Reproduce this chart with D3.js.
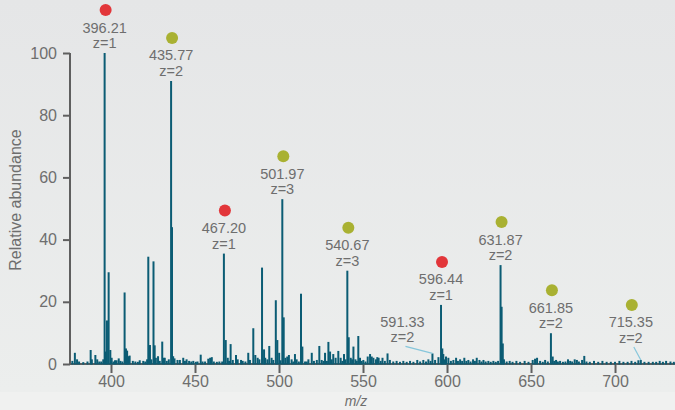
<!DOCTYPE html>
<html>
<head>
<meta charset="utf-8">
<script src="https://cdn.jsdelivr.net/npm/d3@7"></script>
<style>
  html, body { margin: 0; padding: 0; background: #eceeed; }
  svg { display: block; }
  text { font-family: "Liberation Sans", Arial, Helvetica, sans-serif; }
</style>
</head>
<body>
<svg id="chart" width="675" height="410"></svg>
<script>
// Mass spectrum: centroid peaks (m/z, relative abundance %)
const peakMz = [
  377.0, 378.5, 379.8, 381.0, 383.5, 386.0, 387.9, 388.6, 390.7, 391.8,
  393.0, 394.2, 395.4, 396.21, 396.9, 397.6, 398.6, 399.6, 400.4, 401.5,
  402.4, 403.3, 404.6, 405.6, 406.8, 408.1, 408.9, 409.6, 410.3, 411.1,
  413.0, 414.5, 416.0, 417.1, 419.2, 420.4, 421.5, 422.2, 423.2, 424.0,
  425.3, 426.0, 426.7, 428.0, 429.0, 430.5, 431.3, 432.0, 433.2, 434.4,
  435.77, 436.3, 437.0, 437.8, 439.6, 441.0, 443.0, 444.0, 445.0, 446.5,
  447.8, 449.0, 450.5, 451.5, 453.4, 454.5, 456.0, 457.9, 459.0, 460.0,
  461.2, 463.0, 464.5, 466.2, 467.20, 468.3, 469.5, 470.3, 471.2, 472.5,
  474.4, 475.4, 477.4, 478.4, 480.0, 481.7, 482.7, 484.7, 485.9, 487.3,
  488.3, 489.9, 491.1, 491.8, 493.1, 494.2, 495.6, 496.6, 498.1, 499.0,
  500.1, 500.9, 501.97, 502.8, 503.8, 504.9, 505.9, 507.5, 508.5, 509.5,
  510.5, 511.8, 513.1, 513.9, 515.5, 516.5, 517.5, 519.5, 520.8, 522.5,
  524.0, 525.4, 526.5, 527.4, 528.5, 529.4, 530.4, 531.4, 532.3, 533.7,
  535.3, 536.7, 537.7, 538.7, 539.6, 540.67, 541.5, 542.7, 543.5, 544.3,
  545.5, 546.3, 547.2, 548.2, 549.2, 550.2, 551.5, 552.8, 554.2, 555.2,
  556.2, 557.7, 558.5, 559.3, 560.5, 561.6, 563.0, 564.6, 566.0, 568.0,
  570.0, 572.0, 574.0, 576.0, 578.0, 580.0, 582.3, 584.0, 585.9, 587.5,
  588.9, 590.2, 591.33, 592.9, 594.9, 596.44, 597.2, 597.8, 598.6, 599.4,
  600.8, 602.3, 603.8, 605.4, 606.5, 607.8, 609.0, 610.3, 611.5, 612.7,
  614.0, 615.5, 616.6, 617.7, 619.3, 620.5, 621.7, 623.0, 624.6, 626.0,
  627.6, 629.0, 630.4, 631.87, 632.5, 633.2, 633.9, 635.5, 637.3, 639.0,
  641.3, 643.5, 646.2, 648.5, 651.0, 652.4, 653.6, 655.4, 657.0, 658.4,
  660.0, 661.85, 662.9, 663.8, 664.9, 666.0, 667.3, 669.0, 670.5, 672.0,
  673.3, 674.5, 676.0, 677.3, 678.5, 680.4, 681.7, 683.0, 685.0, 687.5,
  690.0, 692.5, 695.0, 697.5, 700.0, 702.6, 705.0, 707.5, 709.8, 712.0,
  713.9, 715.35, 717.5, 720.0, 722.5, 724.5, 726.6, 728.5, 730.4, 733.0,
  735.0
];
const peakAbundance = [
  1.0, 3.6, 1.5, 0.8, 0.6, 0.8, 4.5, 1.5, 2.9, 1.5,
  0.8, 0.8, 1.5, 100, 4.0, 14, 29.5, 4.5, 2.0, 0.8,
  1.2, 1.2, 1.8, 1.0, 0.8, 23, 5.0, 4.3, 2.5, 2.7,
  1.0, 0.8, 0.7, 1.2, 1.0, 0.8, 1.5, 34.5, 6.1, 1.5,
  33, 6.0, 2.0, 2.5, 1.0, 7.2, 2.0, 2.0, 1.0, 1.5,
  91, 44, 2.5, 1.8, 1.3, 1.3, 2.0, 1.0, 1.5, 1.0,
  0.8, 1.0, 0.7, 0.8, 3.0, 0.8, 0.8, 1.7, 2.0, 2.2,
  0.8, 0.7, 0.8, 0.8, 35.5, 7.7, 2.0, 1.0, 6.4, 1.3,
  2.9, 1.5, 1.3, 1.0, 0.8, 3.6, 1.3, 11.5, 2.9, 2.0,
  1.5, 31, 4.7, 2.0, 1.5, 5.8, 2.0, 1.3, 20.5, 7.7,
  3.6, 1.2, 53, 15, 2.0, 2.4, 2.9, 1.5, 0.8, 3.2,
  1.5, 0.8, 22.6, 5.6, 0.8, 0.8, 1.5, 3.6, 1.0, 1.3,
  5.8, 1.3, 1.0, 3.6, 1.0, 7.1, 4.0, 1.5, 3.2, 2.0,
  4.2, 2.0, 1.0, 3.2, 1.5, 30, 8.6, 2.0, 1.5, 5.6,
  1.5, 1.0, 9.0, 2.0, 1.0, 1.3, 0.8, 2.4, 3.2, 2.4,
  2.0, 1.5, 2.2, 2.0, 1.0, 2.0, 1.0, 3.4, 1.3, 0.8,
  1.0, 0.7, 1.0, 0.7, 1.0, 0.7, 1.3, 0.8, 1.3, 0.8,
  1.5, 1.0, 3.4, 1.3, 2.2, 19, 5.0, 3.2, 1.5, 2.4,
  2.0, 1.0, 1.3, 2.0, 1.0, 1.5, 1.0, 2.0, 1.0, 1.3,
  0.8, 1.5, 1.0, 2.0, 1.3, 0.8, 1.3, 0.8, 1.0, 0.7,
  1.0, 0.7, 1.0, 31.8, 18.4, 6.6, 1.5, 0.8, 1.0, 0.7,
  1.0, 0.7, 1.0, 0.7, 1.3, 1.7, 2.0, 1.0, 0.7, 1.3,
  0.8, 9.9, 2.4, 1.0, 1.3, 0.8, 1.0, 0.7, 0.8, 1.5,
  1.0, 0.8, 1.5, 1.3, 0.8, 1.3, 2.6, 0.8, 0.7, 1.0,
  0.7, 1.0, 0.7, 0.7, 0.7, 1.0, 0.7, 0.7, 1.0, 0.7,
  1.2, 1.3, 0.7, 0.7, 0.7, 0.7, 1.0, 0.7, 1.0, 0.8,
  0.7
];

// Annotated ions
const labelMz = [396.21, 435.77, 467.20, 501.97, 540.67, 591.33, 596.44, 631.87, 661.85, 715.35];
const labelCharge = [1, 2, 1, 3, 3, 2, 1, 2, 2, 2];
const labelMarker = ["single", "multi", "single", "multi", "multi", "none", "single", "multi", "multi", "multi"];

// Axis ticks
const xTicks = [400, 450, 500, 550, 600, 650, 700];
const yTicks = [0, 20, 40, 60, 80, 100];

const W = 675, H = 410;
const svg = d3.select("#chart");

// background
const defs = svg.append("defs");
const grad = defs.append("linearGradient").attr("id", "bg").attr("x1", 0).attr("y1", 0).attr("x2", 0).attr("y2", 1);
grad.append("stop").attr("offset", "0%").attr("stop-color", "#e5e6e7");
grad.append("stop").attr("offset", "100%").attr("stop-color", "#eceeed");
svg.append("rect").attr("width", W).attr("height", 392).attr("fill", "url(#bg)");
svg.append("rect").attr("y", 392).attr("width", W).attr("height", H - 392).attr("fill", "#f0f1f0");

const x = d3.scaleLinear().domain([375.6, 735.7]).range([70, 675]);
const y = d3.scaleLinear().domain([0, 100]).range([364, 53]);

const axisColor = "#5f5f5f";
const textColor = "#6e6e6e";
const peakColor = "#0b5c74";

// x axis
const xAxis = svg.append("g").attr("transform", `translate(0,${y(0)})`)
  .call(d3.axisBottom(x).tickValues(xTicks).tickSize(9).tickPadding(3).tickFormat(d3.format("d")));
xAxis.select(".domain").attr("d", `M${x.range()[0]},0H${x.range()[1]}`).attr("stroke", axisColor).attr("stroke-width", 2);
xAxis.selectAll(".tick line").attr("stroke", axisColor).attr("stroke-width", 2);
xAxis.selectAll(".tick text").attr("fill", textColor).attr("font-size", 16).attr("font-family", "Liberation Sans, Arial, sans-serif");

// y axis
const yAxis = svg.append("g").attr("transform", `translate(${x.range()[0]},0)`)
  .call(d3.axisLeft(y).tickValues(yTicks).tickSize(7).tickPadding(6));
yAxis.select(".domain").attr("d", `M0,${y(0)}V${y(100)}`).attr("stroke", axisColor).attr("stroke-width", 2);
yAxis.selectAll(".tick line").attr("stroke", axisColor).attr("stroke-width", 2);
yAxis.selectAll(".tick text").attr("fill", textColor).attr("font-size", 16).attr("font-family", "Liberation Sans, Arial, sans-serif");

// axis titles
svg.append("text").attr("transform", `translate(21,200) rotate(-90)`)
  .attr("text-anchor", "middle").attr("fill", textColor).attr("font-size", 16)
  .text("Relative abundance");
svg.append("text").attr("x", 356).attr("y", 406)
  .attr("text-anchor", "middle").attr("fill", textColor).attr("font-size", 14).attr("font-style", "italic")
  .text("m/z");

// peaks
const peaks = peakMz.map((m, i) => ({ mz: m, v: peakAbundance[i] }));
svg.append("g").selectAll("line").data(peaks).join("line")
  .attr("x1", d => x(d.mz)).attr("x2", d => x(d.mz))
  .attr("y1", y(0) + 0.5).attr("y2", d => y(d.v))
  .attr("stroke", peakColor).attr("stroke-width", 2);

// annotations
const markerColor = { single: "#e2363a", multi: "#a9b132" };
// label groups that sit beside their peak, joined to it by a leader line
const callout = { "591.33": { dx: -30, dy: -6 }, "715.35": { dx: -10, dy: -12 } };

const ann = svg.append("g");
labelMz.forEach((m, i) => {
  const idx = peakMz.indexOf(m);
  const px = x(m), py = y(peakAbundance[idx]);
  const off = callout[m.toFixed(2)] || { dx: 0, dy: 0 };
  const lx = px + off.dx, top = py + off.dy;
  if (off.dx !== 0) {
    ann.append("line")
      .attr("x1", lx + 3).attr("y1", top - 1)
      .attr("x2", px).attr("y2", py)
      .attr("stroke", "#86c6db").attr("stroke-width", 1.2);
  }
  if (labelMarker[i] !== "none") {
    ann.append("circle").attr("cx", lx + 1).attr("cy", top - 43).attr("r", 6)
      .attr("fill", markerColor[labelMarker[i]]);
  }
  ann.append("text").attr("x", lx).attr("y", top - 20.5)
    .attr("text-anchor", "middle").attr("fill", textColor).attr("font-size", 14.5)
    .text(m.toFixed(2));
  ann.append("text").attr("x", lx).attr("y", top - 5)
    .attr("text-anchor", "middle").attr("fill", textColor).attr("font-size", 14.5)
    .text("z=" + labelCharge[i]);
});
</script>
</body>
</html>
